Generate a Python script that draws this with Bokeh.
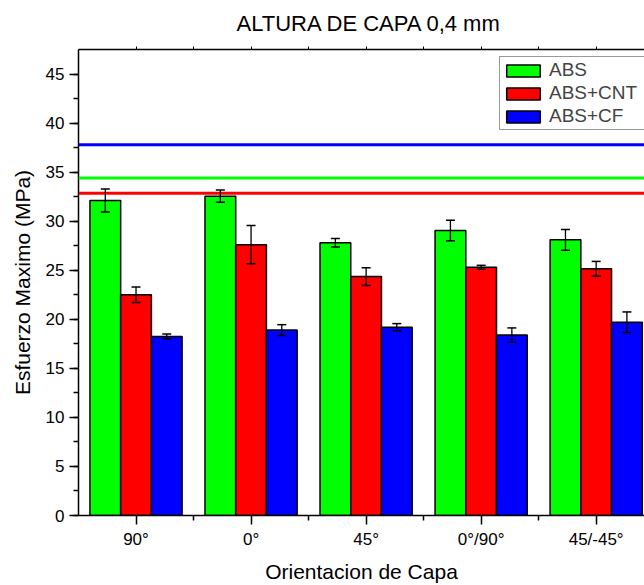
import numpy as np
from bokeh.plotting import figure
from bokeh.models import (Range1d, FixedTicker, LinearAxis, Whisker, TeeHead,
                          ColumnDataSource, Legend, LegendItem, Span)
from bokeh.embed import file_html
from bokeh.resources import INLINE

# ---------------- data ----------------
title_text = "ALTURA DE CAPA 0,4 mm"
categories = ["90°", "0°", "45°", "0°/90°", "45/-45°"]
series = ["ABS", "ABS+CNT", "ABS+CF"]
abs_vals = [32.1, 32.55, 27.8, 29.05, 28.1]
abs_err = [1.17, 0.62, 0.43, 1.05, 1.05]
cnt_vals = [22.5, 27.6, 24.35, 25.3, 25.15]
cnt_err = [0.8, 1.95, 0.9, 0.2, 0.75]
cf_vals = [18.25, 18.9, 19.2, 18.4, 19.7]
cf_err = [0.25, 0.55, 0.36, 0.72, 1.05]
ref_lines = [34.4, 32.85, 37.8]   # ABS, ABS+CNT, ABS+CF reference levels
colors = ["#00ff00", "#ff0000", "#0000ff"]

FONT = "Liberation Sans"
bar_w = 0.267
offsets = [-bar_w, 0.0, bar_w]

p = figure(width=644, height=585, output_backend="svg", toolbar_location=None,
           x_range=Range1d(0.5, 5.42), y_range=Range1d(0, 47.5),
           min_border_left=78, min_border_right=0, min_border_top=49,
           min_border_bottom=70, background_fill_color="white",
           border_fill_color="white")
p.outline_line_color = None
p.grid.visible = False

p.title.text = title_text
p.title.text_font = FONT
p.title.text_font_size = "22px"
p.title.text_font_style = "normal"
p.title.text_color = "black"
p.title.align = "left"
p.title.offset = 158
p.title.vertical_align = "top"
p.title.standoff = 18

xs_base = np.arange(1, len(categories) + 1)
all_vals = [abs_vals, cnt_vals, cf_vals]
all_errs = [abs_err, cnt_err, cf_err]

renderers = []
for name, vals, errs, col, off in zip(series, all_vals, all_errs, colors, offsets):
    v = np.array(vals)
    e = np.array(errs)
    src = ColumnDataSource(dict(x=xs_base + off, top=v, upper=v + e, lower=v - e))
    r = p.vbar(x="x", top="top", width=bar_w, source=src, fill_color=col,
               line_color="black", line_width=1.5)
    renderers.append(r)
    w = Whisker(base="x", upper="upper", lower="lower", source=src, level="overlay",
                line_color="black", line_width=1.3,
                upper_head=TeeHead(size=9, line_width=1.5, line_color="black"),
                lower_head=TeeHead(size=9, line_width=1.5, line_color="black"))
    p.add_layout(w)

for lvl, col in zip(ref_lines, colors):
    p.add_layout(Span(location=lvl, dimension="width", line_color=col, line_width=3))

# axes
xax = p.xaxis[0]
xax.ticker = FixedTicker(ticks=list(xs_base), minor_ticks=list(xs_base[:-1] + 0.5))
xax.major_label_overrides = {int(i): c for i, c in zip(xs_base, categories)}
xax.axis_label = "Orientacion de Capa"
yax = p.yaxis[0]
yax.ticker = FixedTicker(ticks=list(range(0, 50, 5)), minor_ticks=list(np.arange(0, 47.5, 2.5)))
yax.axis_label = "Esfuerzo Maximo (MPa)"
for ax in (xax, yax):
    ax.axis_line_width = 1.5
    ax.axis_line_color = "black"
    ax.major_tick_line_width = 1.5
    ax.minor_tick_line_width = 1.5
    ax.major_tick_out = 9
    ax.major_tick_in = 0
    ax.minor_tick_out = 5
    ax.minor_tick_in = 0
    ax.major_label_text_font = FONT
    ax.major_label_text_font_size = "17px"
    ax.major_label_text_color = "black"
    ax.major_label_standoff = 5
    ax.axis_label_text_font = FONT
    ax.axis_label_text_font_size = "21px"
    ax.axis_label_text_font_style = "normal"
    ax.axis_label_text_color = "black"
    ax.axis_label_standoff = 8
yax.axis_label_standoff = 9

top = LinearAxis(ticker=FixedTicker(ticks=list(xs_base), minor_ticks=list(xs_base[:-1] + 0.5)),
                 axis_line_width=1.5, major_tick_out=3, major_tick_in=0,
                 minor_tick_out=3, minor_tick_in=0, major_tick_line_width=1,
                 minor_tick_line_width=1, major_label_text_color=None,
                 major_label_text_font_size="1px", major_label_standoff=0)
p.add_layout(top, "above")

legend = Legend(items=[LegendItem(label=s, renderers=[r]) for s, r in zip(series, renderers)],
                location=(421, 385), label_text_font=FONT, label_text_font_size="19px",
                glyph_width=42, glyph_height=15, label_standoff=5, padding=2,
                label_width=96, spacing=1, margin=0, border_line_color="#333333",
                border_line_width=1, background_fill_color="white",
                background_fill_alpha=1.0)
p.add_layout(legend)

open("out.html", "w").write(file_html(p, INLINE))
